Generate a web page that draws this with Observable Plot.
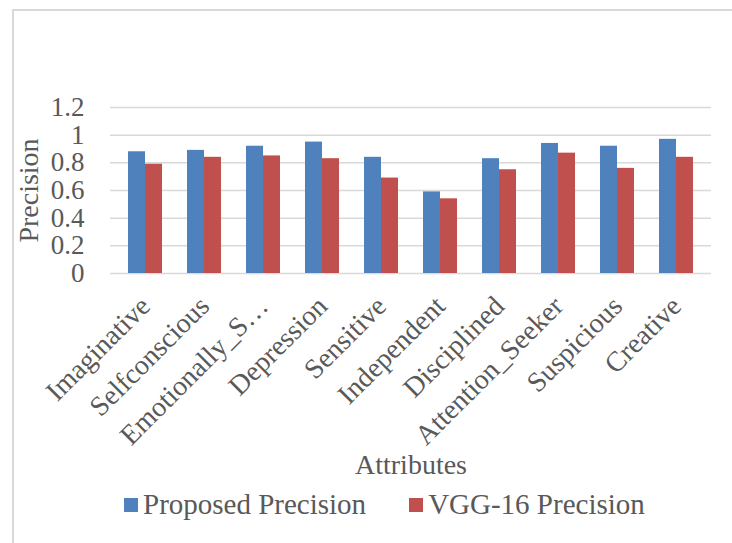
<!DOCTYPE html>
<html>
<head>
<meta charset="utf-8">
<script src="https://cdn.jsdelivr.net/npm/d3@7"></script>
<script src="https://cdn.jsdelivr.net/npm/@observablehq/plot@0.6"></script>
<style>
  html, body { margin: 0; padding: 0; background: #fff; }
  #wrap { position: relative; width: 732px; height: 543px; overflow: hidden; background: #fff; }
  #frame { position: absolute; left: 12px; top: 9px; width: 800px; height: 600px;
           border-left: 2px solid #d9d9d9; border-top: 2px solid #d9d9d9; }
  #chart { position: absolute; left: 0; top: 0; }
  #legend { position: absolute; left: 124px; top: 488px; }
  .lg-swatches { font-family: "Liberation Serif", "Times New Roman", serif !important; font-size: 29px !important; color: #595959 !important; min-height: 0 !important; margin: 0 !important; }
  .lg-swatch { margin-right: 43px !important; }
  .lg-swatch > svg { margin-right: 5px !important; }
</style>
</head>
<body>
<div id="wrap">
  <div id="frame"></div>
  <div id="chart"></div>
  <div id="legend"></div>
</div>
<script>
const categories = ["Imaginative", "Selfconscious", "Emotionally_S…", "Depression", "Sensitive",
                    "Independent", "Disciplined", "Attention_Seeker", "Suspicious", "Creative"];
const proposed = [0.88, 0.89, 0.92, 0.95, 0.84, 0.59, 0.83, 0.94, 0.92, 0.97];
const vgg      = [0.79, 0.84, 0.85, 0.83, 0.69, 0.54, 0.75, 0.87, 0.76, 0.84];
const yTicks = [0, 0.2, 0.4, 0.6, 0.8, 1, 1.2];
const yTickLabels = ["0", "0.2", "0.4", "0.6", "0.8", "1", "1.2"];
const seriesNames = ["Proposed Precision", "VGG-16 Precision"];
const colors = ["#4F81BD", "#C0504D"];

const data = categories.flatMap((c, i) => [
  {c, s: seriesNames[0], v: proposed[i]},
  {c, s: seriesNames[1], v: vgg[i]}
]);

const chart = Plot.plot({
  width: 732,
  height: 490,
  marginLeft: 110,
  marginRight: 21,
  marginTop: 107,
  marginBottom: 217,
  style: {fontFamily: "'Liberation Serif', 'Times New Roman', serif", fontSize: "28px", color: "#595959", background: "transparent", overflow: "visible"},
  x: {domain: categories, paddingInner: 0.432, paddingOuter: 0.23},
  y: {domain: [0, 1.2]},
  color: {domain: seriesNames, range: colors},
  marks: [
    Plot.gridY(yTicks, {stroke: "#d9d9d9", strokeOpacity: 1, strokeWidth: 1.5}),
    Plot.barY(data.filter(d => d.s === seriesNames[0]), {x: "c", y: "v", fill: "s", insetRight: 17}),
    Plot.barY(data.filter(d => d.s === seriesNames[1]), {x: "c", y: "v", fill: "s", insetLeft: 17}),
    Plot.axisY({ticks: yTicks, tickFormat: d => yTickLabels[yTicks.indexOf(d)], tickSize: 0, tickPadding: 26, label: null, fontSize: 27}),
    Plot.axisY({ticks: [], tickSize: 0, label: "Precision", labelAnchor: "center", labelOffset: 92, labelArrow: "none", fontSize: 28}),
    Plot.axisX({tickRotate: -45, tickSize: 0, tickPadding: 28, dx: 0, label: null, fontSize: 28}),
    Plot.axisX({ticks: [], tickSize: 0, label: "Attributes", labelAnchor: "center", labelOffset: 200, labelArrow: "none", fontSize: 28})
  ]
});
document.getElementById("chart").appendChild(chart);

const legend = Plot.legend({
  color: {domain: seriesNames, range: colors},
  legend: "swatches",
  swatchSize: 14,
  className: "lg"
});
document.getElementById("legend").appendChild(legend);
</script>
</body>
</html>
